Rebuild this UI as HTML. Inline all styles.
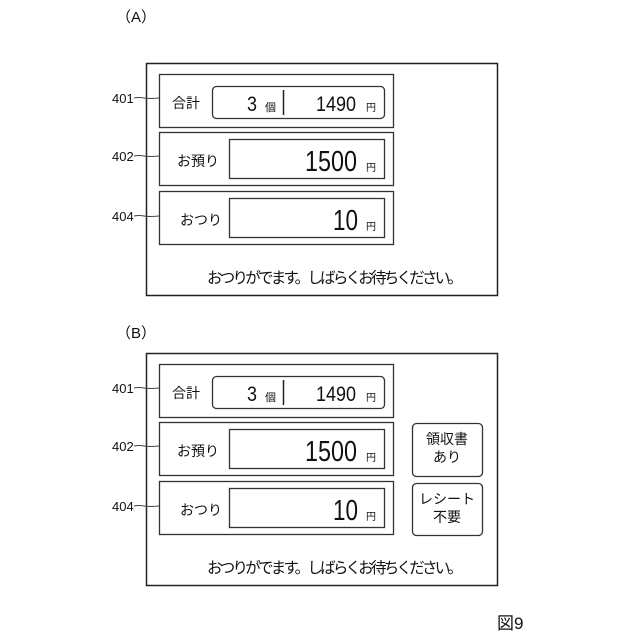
<!DOCTYPE html>
<html><head><meta charset="utf-8"><style>
html,body{margin:0;padding:0;background:#fff}
svg{display:block}
text{font-family:"Liberation Sans","Noto Sans CJK JP",sans-serif;fill:#111}
</style></head><body>
<svg width="640" height="640" viewBox="0 0 640 640" xmlns="http://www.w3.org/2000/svg">
<defs>
<g id="panel">
  <rect x="146.5" y="63.5" width="351" height="232" fill="none" stroke="#222" stroke-width="1.5"/>
  <rect x="159.5" y="74.5" width="234" height="53" fill="none" stroke="#333" stroke-width="1.3"/>
  <rect x="212.5" y="86.5" width="172" height="32" rx="4" fill="none" stroke="#333" stroke-width="1.3"/>
  <line x1="283.5" y1="90" x2="283.5" y2="115" stroke="#222" stroke-width="1.5"/>
  <rect x="159.5" y="132.5" width="234" height="53" fill="none" stroke="#333" stroke-width="1.3"/>
  <rect x="229.5" y="139.5" width="155" height="39" fill="none" stroke="#333" stroke-width="1.3"/>
  <rect x="159.5" y="191.5" width="234" height="53" fill="none" stroke="#333" stroke-width="1.3"/>
  <rect x="229.5" y="198.5" width="155" height="39" fill="none" stroke="#333" stroke-width="1.3"/>
  <text x="172" y="108" font-size="14">合計</text>
  <text x="247" y="111" font-size="21" textLength="10" lengthAdjust="spacingAndGlyphs">3</text>
  <text x="265" y="111" font-size="11">個</text>
  <text x="316" y="111" font-size="21" textLength="40" lengthAdjust="spacingAndGlyphs">1490</text>
  <text x="366" y="111" font-size="10">円</text>
  <text x="177" y="166" font-size="14">お預り</text>
  <text x="305" y="171" font-size="29" textLength="52" lengthAdjust="spacingAndGlyphs">1500</text>
  <text x="366" y="171" font-size="10">円</text>
  <text x="180" y="225" font-size="14">おつり</text>
  <text x="333" y="230" font-size="29" textLength="25" lengthAdjust="spacingAndGlyphs">10</text>
  <text x="366" y="230" font-size="10">円</text>
  <text x="207" y="283" font-size="15.5" textLength="256">おつりがでます。しばらくお待ちください。</text>
  <text x="112" y="103" font-size="13">401</text>
  <text x="112" y="161" font-size="13">402</text>
  <text x="112" y="221" font-size="13">404</text>
  <path d="M134 98 q5 -1 10 0 t15 0" fill="none" stroke="#444" stroke-width="1"/>
  <path d="M134 156 q5 -1 10 0 t15 0" fill="none" stroke="#444" stroke-width="1"/>
  <path d="M134 216 q5 -1 10 0 t15 0" fill="none" stroke="#444" stroke-width="1"/>
</g>
</defs>
<text x="116" y="22" font-size="15">（A）</text>
<use href="#panel"/>
<text x="116" y="338" font-size="15">（B）</text>
<g transform="translate(0,290)"><use href="#panel"/></g>
<rect x="412.5" y="423.5" width="70" height="53" rx="4" fill="none" stroke="#333" stroke-width="1.3"/>
<rect x="412.5" y="483.5" width="70" height="52" rx="4" fill="none" stroke="#333" stroke-width="1.3"/>
<text x="447" y="444" font-size="14" text-anchor="middle">領収書</text>
<text x="447" y="462" font-size="14" text-anchor="middle">あり</text>
<text x="447" y="504" font-size="14" text-anchor="middle">レシート</text>
<text x="447" y="522" font-size="14" text-anchor="middle">不要</text>
<text x="497" y="629" font-size="17">図9</text>
</svg>
</body></html>
